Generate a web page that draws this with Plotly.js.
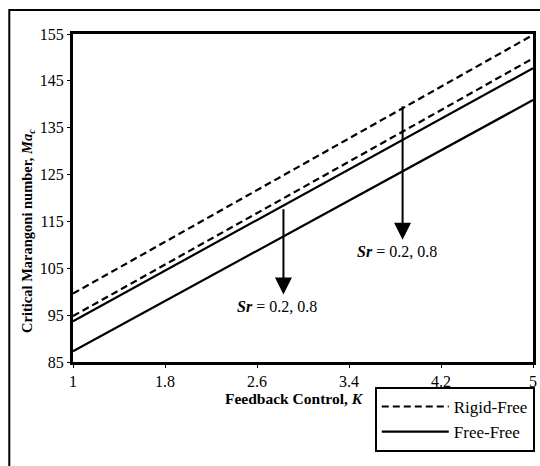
<!DOCTYPE html>
<html>
<head>
<meta charset="utf-8">
<script src="https://cdn.plot.ly/plotly-3.0.1.min.js"></script>
<style>
  html, body { margin: 0; padding: 0; background: #fff; }
  #chart { width: 540px; height: 466px; }
</style>
</head>
<body>
<div id="chart"></div>
<script>
// Feedback control parameter K
const K = [1, 2, 3, 4, 5];

// Critical Marangoni number, rigid-free boundaries (Sr = 0.2 and Sr = 0.8)
const rigidFreeSr02 = [99.6, 113.4, 127.2, 141.0, 154.8];
const rigidFreeSr08 = [94.8, 108.5, 122.3, 136.0, 149.8];

// Critical Marangoni number, free-free boundaries (Sr = 0.2 and Sr = 0.8)
const freeFreeSr02 = [93.7, 107.2, 120.7, 134.2, 147.7];
const freeFreeSr08 = [87.3, 100.7, 114.1, 127.5, 140.9];

// Axis ticks
const xTicks = [1, 1.8, 2.6, 3.4, 4.2, 5];
const xTickText = ['1', '1.8', '2.6', '3.4', '4.2', '5'];
const yTicks = [85, 95, 105, 115, 125, 135, 145, 155];

// Arrows showing the Sr trend: [K, from Ma, to Ma]
const arrowFreeFree = [2.83, 117.9, 99.4];
const arrowRigidFree = [3.866, 139.9, 111.1];
// Labels under the arrows: [K, Ma]
const labelFreeFree = [2.775, 96.9];
const labelRigidFree = [3.814, 108.6];
const srLabel = '<b><i>Sr</i></b> = 0.2, 0.8';

const serif = '"Liberation Serif", "Times New Roman", Times, serif';

const dashed = { color: '#000', width: 2.2, dash: '7px,4px' };
const solid = { color: '#000', width: 2.2 };

const traces = [
  { x: K, y: rigidFreeSr02, mode: 'lines', line: dashed, name: 'Rigid-Free',
    legendgroup: 'rf', showlegend: true },
  { x: K, y: rigidFreeSr08, mode: 'lines', line: dashed, name: 'Rigid-Free',
    legendgroup: 'rf', showlegend: false },
  { x: K, y: freeFreeSr02, mode: 'lines', line: solid, name: 'Free-Free',
    legendgroup: 'ff', showlegend: true },
  { x: K, y: freeFreeSr08, mode: 'lines', line: solid, name: 'Free-Free',
    legendgroup: 'ff', showlegend: false }
];

function arrow(a) {
  return {
    x: a[0], y: a[2], ax: a[0], ay: a[1],
    xref: 'x', yref: 'y', axref: 'x', ayref: 'y',
    text: '', showarrow: true,
    arrowhead: 2, arrowwidth: 2, arrowsize: 1.7, arrowcolor: '#000',
    standoff: 0, startstandoff: 0
  };
}

function label(p) {
  return {
    x: p[0], y: p[1], xref: 'x', yref: 'y',
    text: srLabel, showarrow: false,
    xanchor: 'center', yanchor: 'middle',
    font: { family: serif, size: 16, color: '#000' }
  };
}

const axisCommon = {
  showgrid: false, zeroline: false,
  showline: true, linecolor: '#000', linewidth: 3, mirror: true,
  ticks: 'outside', ticklen: 3, tickwidth: 1, tickcolor: '#000',
  tickfont: { family: serif, size: 16, color: '#000' }
};

const layout = {
  width: 540, height: 466,
  margin: { l: 73, r: 5, t: 34, b: 103.5 },
  paper_bgcolor: '#fff', plot_bgcolor: '#fff',
  font: { family: serif, color: '#000' },
  xaxis: Object.assign({}, axisCommon, {
    range: [1, 5], tickvals: xTicks, ticktext: xTickText
  }),
  yaxis: Object.assign({}, axisCommon, {
    range: [85, 155], tickvals: yTicks
  }),
  legend: {
    x: 0.656, y: -0.076, xanchor: 'left', yanchor: 'top',
    bgcolor: '#fff', bordercolor: '#000', borderwidth: 2,
    font: { family: serif, size: 17, color: '#000' },
    itemwidth: 67, tracegroupgap: 0
  },
  annotations: [
    arrow(arrowFreeFree), arrow(arrowRigidFree),
    label(labelFreeFree), label(labelRigidFree),
    {
      xref: 'paper', yref: 'paper', x: 0.4805, y: -0.11,
      xanchor: 'center', yanchor: 'middle', showarrow: false,
      text: '<b>Feedback Control, <i>K</i></b>',
      font: { family: serif, size: 15.5, color: '#000' }
    },
    {
      xref: 'paper', yref: 'paper', x: -0.0974, y: 0.40,
      xanchor: 'center', yanchor: 'middle', showarrow: false, textangle: -90,
      text: '<b>Critical Marangoni number, <i>Ma<sub>c</sub></i></b>',
      font: { family: serif, size: 14.5, color: '#000' }
    }
  ],
  shapes: [
    {
      type: 'rect', xref: 'paper', yref: 'paper',
      x0: -0.1385, x1: 1.03, y0: -0.35, y1: 1.073,
      line: { color: '#000', width: 2 }, fillcolor: 'rgba(0,0,0,0)', layer: 'below'
    }
  ]
};

Plotly.newPlot('chart', traces, layout, { staticPlot: true, displayModeBar: false });
</script>
</body>
</html>
